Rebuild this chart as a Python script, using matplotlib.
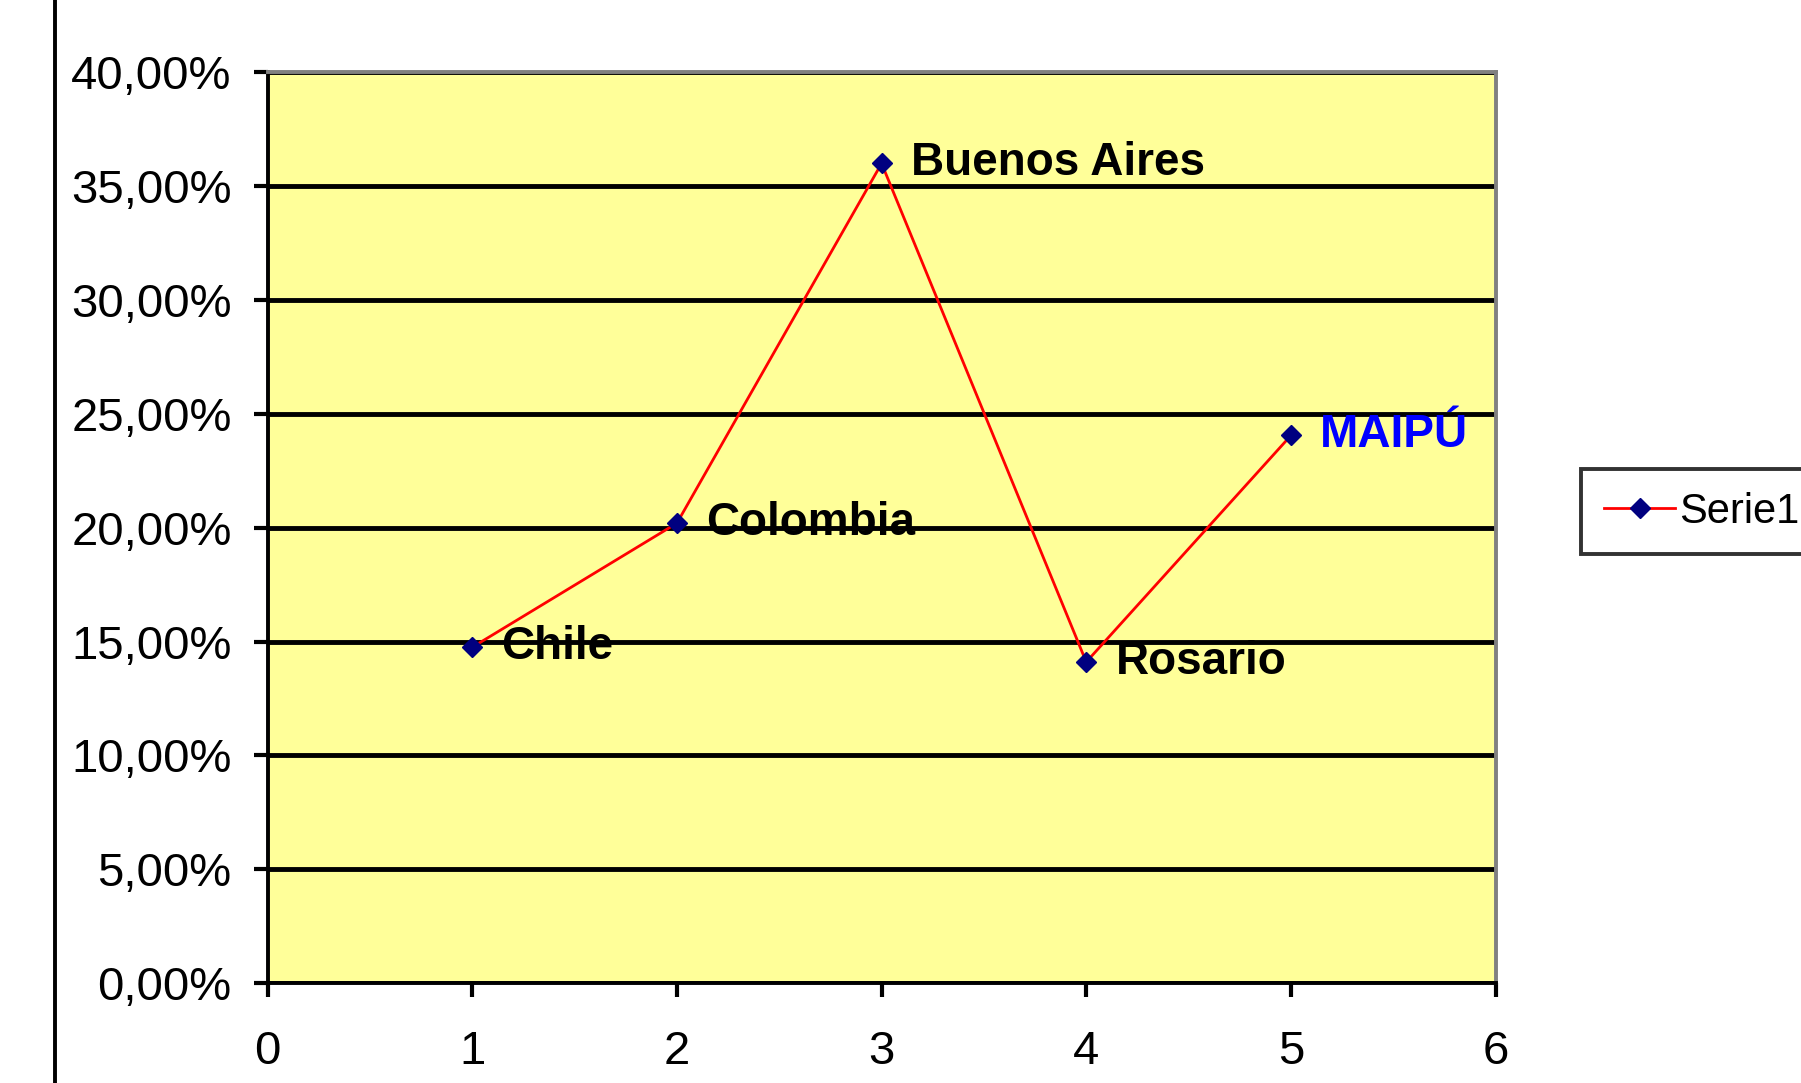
import matplotlib
matplotlib.use("Agg")
import matplotlib.pyplot as plt
from matplotlib.ticker import FuncFormatter, MultipleLocator
from matplotlib.lines import Line2D

# Data
x_vals = [1, 2, 3, 4, 5]
y_vals = [14.75, 20.2, 36.0, 14.1, 24.05]   # percent
point_labels = ["Chile", "Colombia", "Buenos Aires", "Rosario", "MAIPÚ"]
label_colors = ["black", "black", "black", "black", "#0000FF"]
series_name = "Serie1"

FONT = ["Liberation Sans", "DejaVu Sans"]
plt.rcParams['font.family'] = FONT

W, H = 1801, 1083
fig = plt.figure(figsize=(W / 100, H / 100), dpi=100)
fig.patch.set_facecolor("white")

ax = fig.add_axes([0.1486, 0.0923, 0.8304 - 0.1486, 0.8409])
ax.set_facecolor("#FFFF99")

ax.plot(x_vals, y_vals, color="#FF0000", lw=2.0, marker="D", markersize=10,
        markerfacecolor="#000080", markeredgecolor="#000080", zorder=3)

for xv, yv, lab, c in zip(x_vals, y_vals, point_labels, label_colors):
    ax.annotate(lab, (xv, yv), xytext=(21, 0), textcoords="offset points",
                ha="left", va="center", fontsize=33, fontweight="bold",
                color=c, zorder=4)

ax.set_xlim(0, 6)
ax.set_ylim(0, 40)
ax.xaxis.set_major_locator(MultipleLocator(1))
ax.yaxis.set_major_locator(MultipleLocator(5))
ax.yaxis.set_major_formatter(FuncFormatter(lambda v, p: f"{v:.2f}".replace(".", ",") + "%"))

ax.grid(axis="y", color="black", lw=3.5, zorder=1)
ax.set_axisbelow(True)

for s in ["left", "bottom"]:
    ax.spines[s].set_color("black")
    ax.spines[s].set_linewidth(2.8)
for s in ["top", "right"]:
    ax.spines[s].set_color("#808080")
    ax.spines[s].set_linewidth(2.8)

ax.tick_params(axis="both", direction="out", length=10, width=3, color="black",
               labelsize=34)
ax.tick_params(axis="y", pad=16)
ax.tick_params(axis="x", pad=24)

# left vertical line on figure
fig.add_artist(Line2D([0.0306, 0.0306], [0, 1], transform=fig.transFigure,
                      color="black", lw=2.8))

handle = Line2D([], [], color="#FF0000", lw=2.0, marker="D", markersize=10,
                markerfacecolor="#000080", markeredgecolor="#000080")
leg = fig.legend([handle], [series_name], loc="upper left",
                 bbox_to_anchor=(0.878, 0.5673), fontsize=30, frameon=True,
                 fancybox=False, edgecolor="black", handlelength=1.7,
                 handletextpad=0.1, borderpad=0.55, borderaxespad=0)
leg.get_frame().set_linewidth(2.8)

fig.savefig("out.png", dpi=100)
